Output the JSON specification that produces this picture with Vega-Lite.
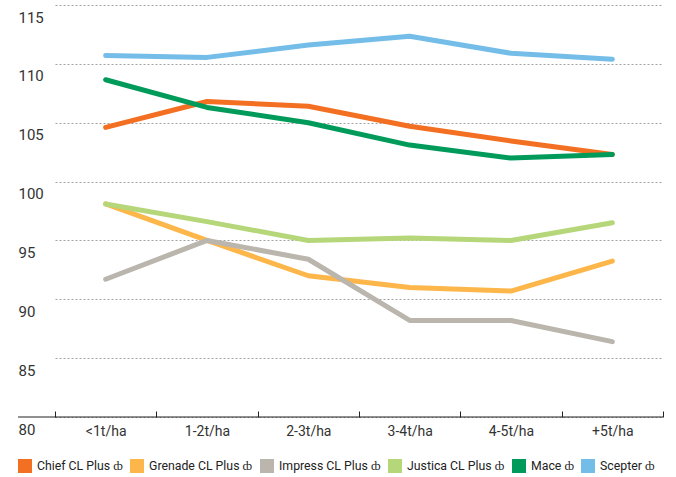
{
  "$schema": "https://vega.github.io/schema/vega-lite/v6.json",
  "width": 645,
  "height": 412,
  "autosize": {"type": "none"},
  "padding": {"left": 18, "top": 5, "right": 13, "bottom": 60},
  "background": "white",
  "config": {
    "view": {"stroke": null},
    "font": "Roboto",
    "axis": {"labelFont": "Roboto", "labelColor": "#333333"}
  },
  "datasets": {
    "yield": [
      {"variety": "Chief CL Plus", "band": "<1t/ha", "value": 104.6},
      {"variety": "Chief CL Plus", "band": "1-2t/ha", "value": 106.8},
      {"variety": "Chief CL Plus", "band": "2-3t/ha", "value": 106.4},
      {"variety": "Chief CL Plus", "band": "3-4t/ha", "value": 104.7},
      {"variety": "Chief CL Plus", "band": "4-5t/ha", "value": 103.45},
      {"variety": "Chief CL Plus", "band": "+5t/ha", "value": 102.3},
      {"variety": "Grenade CL Plus", "band": "<1t/ha", "value": 98.1},
      {"variety": "Grenade CL Plus", "band": "1-2t/ha", "value": 95.0},
      {"variety": "Grenade CL Plus", "band": "2-3t/ha", "value": 92.0},
      {"variety": "Grenade CL Plus", "band": "3-4t/ha", "value": 91.0},
      {"variety": "Grenade CL Plus", "band": "4-5t/ha", "value": 90.7},
      {"variety": "Grenade CL Plus", "band": "+5t/ha", "value": 93.25},
      {"variety": "Impress CL Plus", "band": "<1t/ha", "value": 91.7},
      {"variety": "Impress CL Plus", "band": "1-2t/ha", "value": 95.0},
      {"variety": "Impress CL Plus", "band": "2-3t/ha", "value": 93.4},
      {"variety": "Impress CL Plus", "band": "3-4t/ha", "value": 88.2},
      {"variety": "Impress CL Plus", "band": "4-5t/ha", "value": 88.2},
      {"variety": "Impress CL Plus", "band": "+5t/ha", "value": 86.4},
      {"variety": "Justica CL Plus", "band": "<1t/ha", "value": 98.1},
      {"variety": "Justica CL Plus", "band": "1-2t/ha", "value": 96.6},
      {"variety": "Justica CL Plus", "band": "2-3t/ha", "value": 95.0},
      {"variety": "Justica CL Plus", "band": "3-4t/ha", "value": 95.2},
      {"variety": "Justica CL Plus", "band": "4-5t/ha", "value": 95.0},
      {"variety": "Justica CL Plus", "band": "+5t/ha", "value": 96.5},
      {"variety": "Mace", "band": "<1t/ha", "value": 108.65},
      {"variety": "Mace", "band": "1-2t/ha", "value": 106.3},
      {"variety": "Mace", "band": "2-3t/ha", "value": 105.0},
      {"variety": "Mace", "band": "3-4t/ha", "value": 103.1},
      {"variety": "Mace", "band": "4-5t/ha", "value": 102.0},
      {"variety": "Mace", "band": "+5t/ha", "value": 102.3},
      {"variety": "Scepter", "band": "<1t/ha", "value": 110.7},
      {"variety": "Scepter", "band": "1-2t/ha", "value": 110.55},
      {"variety": "Scepter", "band": "2-3t/ha", "value": 111.6},
      {"variety": "Scepter", "band": "3-4t/ha", "value": 112.35},
      {"variety": "Scepter", "band": "4-5t/ha", "value": 110.9},
      {"variety": "Scepter", "band": "+5t/ha", "value": 110.4}
    ],
    "base": [{"baseline": 80}]
  },
  "layer": [
    {
      "data": {"name": "yield"},
      "mark": {"type": "line", "strokeWidth": 5, "strokeCap": "round", "strokeJoin": "round"},
      "encoding": {
        "x": {
          "field": "band",
          "type": "nominal",
          "sort": ["<1t/ha", "1-2t/ha", "2-3t/ha", "3-4t/ha", "4-5t/ha", "+5t/ha"],
          "scale": {"type": "band", "range": [37, 645], "paddingInner": 0, "paddingOuter": 0},
          "axis": {
            "title": null,
            "domain": false,
            "tickBand": "extent",
            "tickSize": -6,
            "tickColor": "#222222",
            "tickWidth": 1,
            "labelAngle": 0,
            "labelFontSize": 14,
            "labelPadding": 13,
            "labelBaseline": "top",
            "grid": false
          }
        },
        "y": {
          "field": "value",
          "type": "quantitative",
          "scale": {"domain": [80, 115], "nice": false, "zero": false},
          "axis": {
            "title": null,
            "values": [80, 85, 90, 95, 100, 105, 110, 115],
            "domain": false,
            "ticks": false,
            "tickSize": 0,
            "labelPadding": 0,
            "labelAlign": "left",
            "labelBaseline": "top",
            "labelOffset": 5,
            "labelFontSize": 15,
            "grid": true,
            "gridColor": "#a0a0a0",
            "gridDash": [2, 2],
            "gridWidth": 1
          }
        },
        "color": {
          "field": "variety",
          "type": "nominal",
          "scale": {
            "domain": ["Chief CL Plus", "Grenade CL Plus", "Impress CL Plus", "Justica CL Plus", "Mace", "Scepter"],
            "range": ["#F36F21", "#FDB64A", "#BAB6AE", "#B5D77A", "#009B5B", "#74BDE9"]
          },
          "legend": {
            "title": null,
            "orient": "none",
            "legendX": 0,
            "legendY": 454,
            "direction": "horizontal",
            "symbolType": "square",
            "symbolSize": 196,
            "symbolStrokeWidth": 0,
            "symbolOffset": 0,
            "labelFontSize": 12.3,
            "labelFontWeight": "normal",
            "labelColor": "#222222",
            "labelOffset": 5,
            "columnPadding": 7,
            "labelExpr": "datum.label + ' ȸ'",
            "encode": {
              "symbols": {
                "update": {
                  "fill": {"scale": "color", "field": "value"},
                  "stroke": {"value": "transparent"},
                  "strokeWidth": {"value": 0}
                }
              }
            }
          }
        },
        "order": {"value": 0}
      }
    },
    {
      "data": {"name": "base"},
      "mark": {"type": "rule", "color": "#222222", "strokeWidth": 1.2},
      "encoding": {
        "y": {"field": "baseline", "type": "quantitative"}
      }
    }
  ]
}
